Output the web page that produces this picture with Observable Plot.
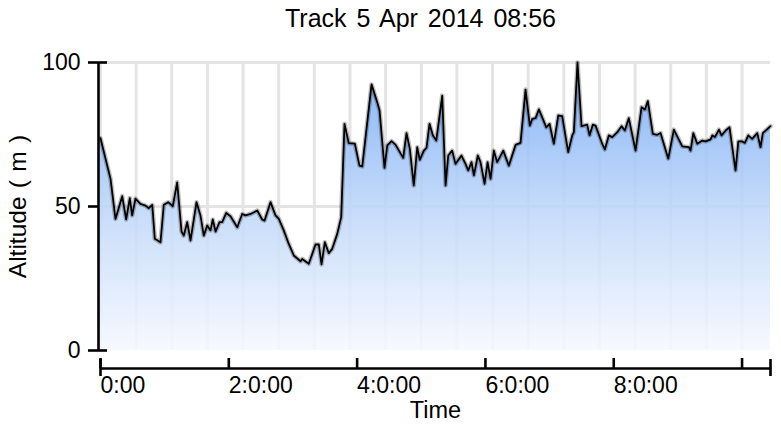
<!DOCTYPE html>
<html>
<head>
<meta charset="utf-8">
<script src="https://cdn.jsdelivr.net/npm/d3@7"></script>
<script src="https://cdn.jsdelivr.net/npm/@observablehq/plot@0.6"></script>
<style>
  html, body { margin: 0; padding: 0; background: #fff; }
</style>
</head>
<body>
<div id="chart"></div>
<script>
const title = "Track 5 Apr 2014 08:56";
const xLabel = "Time";
const yLabel = "Altitude ( m )";

// elapsed time in minutes
const times = [
  0, 9.4, 14.0, 20.3, 24.0, 27.4, 29.6, 32.7, 37.4, 42.1, 45.2, 48.4, 50.8, 56.1, 59.2, 63.3,
  67.6, 71.7, 75.8, 77.9, 81.1, 84.2, 89.8, 93.5, 96.6, 99.8, 102.9, 105.0, 107.6, 111.3, 113.8,
  117.6, 121.6, 127.9, 132.5, 135.6, 140.3, 146.6, 151.2, 153.4, 159.0, 163.7, 166.8, 171.4,
  176.1, 180.8, 187.1, 188.6, 194.8, 201.1, 204.2, 206.7, 209.8, 213.5, 216.7, 221.4, 225.1,
  228.2, 232.2, 237.9, 242.2, 244.8, 253.5, 258.8, 261.0, 265.6, 268.2, 272.2, 275.9, 283.1,
  286.2, 289.3, 293.0, 296.2, 298.6, 302.4, 304.9, 307.7, 310.8, 314.0, 319.6, 322.7, 325.2,
  328.9, 332.0, 337.6, 341.4, 343.9, 347.0, 349.2, 352.9, 355.4, 359.2, 362.0, 364.8, 367.9,
  371.0, 376.7, 381.9, 388.2, 392.8, 397.5, 401.5, 403.8, 406.9, 410.0, 413.7, 416.9, 420.0,
  424.0, 428.1, 431.8, 437.4, 441.2, 442.7, 446.1, 449.9, 455.2, 457.4, 460.4, 463.0, 469.2,
  471.7, 475.4, 478.6, 483.3, 487.3, 490.4, 494.1, 500.4, 506.0, 509.1, 511.9, 516.6, 520.7,
  523.8, 531.0, 536.2, 544.1, 550.3, 551.8, 554.4, 558.1, 562.8, 565.9, 570.6, 572.2, 574.6,
  578.4, 580.8, 584.6, 588.3, 593.9, 596.5, 600.2, 602.6, 605.8, 609.5, 614.2, 617.3, 619.4,
  626.6
];
// altitude in metres
const altitudes = [
  73.7, 59.6, 45.7, 53.6, 45.5, 52.9, 46.9, 52.7, 50.9, 50.3, 49.4, 50.6, 38.8, 37.6, 50.6, 51.5,
  50.1, 58.4, 41.3, 39.9, 44.6, 38.2, 51.5, 46.9, 39.9, 43.4, 41.7, 45.5, 41.3, 44.6, 44.6,
  47.8, 46.6, 42.8, 47.4, 46.9, 47.4, 48.6, 45.5, 45.1, 51.5, 46.9, 45.7, 41.7,
  37.0, 33.0, 31.0, 31.8, 30.1, 36.8, 36.8, 29.9, 37.6, 33.8, 35.3, 40.5, 46.3,
  78.7, 72.0, 71.8, 64.2, 63.9, 92.4, 86.2, 83.3, 63.4, 71.2, 72.7, 71.5, 66.9,
  75.5, 70.0, 57.3, 70.6, 66.2, 69.4, 70.4, 78.7, 74.7, 72.9, 88.5, 57.3, 67.7,
  69.4, 64.8, 67.7, 64.8, 62.5, 65.4, 60.8, 67.7, 65.4, 57.9, 65.4, 59.6, 69.4,
  65.4, 69.4, 64.2, 71.4, 72.1, 90.6, 78.1, 80.4, 80.7, 83.7, 80.4, 77.5, 78.7,
  71.8, 81.6, 81.4, 68.9, 74.7, 75.8, 100.0, 77.9, 78.4, 74.7, 78.4, 78.1, 71.8,
  69.8, 74.7, 74.1, 75.8, 77.9, 76.4, 80.7, 69.4, 84.5, 83.7, 86.6, 75.2, 74.9,
  75.5, 66.6, 76.7, 70.9, 70.6, 69.4, 75.5, 71.8, 72.9, 72.6, 73.3, 74.7, 74.1,
  76.7, 74.7, 76.4, 77.5, 62.5, 72.6, 72.6, 72.1, 74.7, 73.5, 75.5, 70.6, 75.5,
  77.9
];

const yTicks = [0, 50, 100];
const xTicks = [0, 120, 240, 360, 480, 600];           // minutes
const xTickLabels = ["0:00", "2:0:00", "4:0:00", "6:0:00", "8:0:00", ""];
const gridStepMin = 2000 / 60;                          // grid every 2000 s
const gridTimes = d3.range(0, 601, gridStepMin);
const gridAlts = [50, 100];

const data = times.map((t, i) => ({t, alt: altitudes[i]}));
const xEnd = times[times.length - 1];
const labelFor = new Map(xTicks.map((t, i) => [t, xTickLabels[i]]));

const defs = () => {
  const d = d3.create("svg:defs");
  const g = d.append("linearGradient").attr("id", "altFill")
    .attr("x1", 0).attr("y1", 0).attr("x2", 0).attr("y2", 1);
  g.append("stop").attr("offset", "0%").attr("stop-color", "#74a9f6");
  g.append("stop").attr("offset", "55%").attr("stop-color", "#c3daf9");
  g.append("stop").attr("offset", "100%").attr("stop-color", "#f6f8ff");
  return d.node();
};

const font = "Liberation Sans, Arial, Helvetica, sans-serif";

const chart = Plot.plot({
  width: 781,
  height: 427,
  marginLeft: 100,
  marginRight: 11,
  marginTop: 62,
  marginBottom: 77,
  style: {fontFamily: font, fontSize: "23px", background: "#fff", color: "#000"},
  x: {domain: [0, xEnd], axis: null},
  y: {domain: [0, 100], axis: null},
  marks: [
    defs,
    Plot.ruleX(gridTimes, {y1: 0, y2: 100, stroke: "#e4e4e4", strokeWidth: 3}),
    Plot.ruleY(gridAlts, {stroke: "#e4e4e4", strokeWidth: 3}),
    Plot.areaY(data, {x: "t", y: "alt", fill: "url(#altFill)", fillOpacity: 0.88}),
    Plot.lineY(data, {x: "t", y: "alt", stroke: "#222", strokeWidth: 4.5, strokeOpacity: 0.3}),
    Plot.lineY(data, {x: "t", y: "alt", stroke: "#000", strokeWidth: 1.8}),
    // y axis
    Plot.ruleX([0], {y1: 0, y2: 100, dx: -2, stroke: "#000", strokeWidth: 2.6}),
    Plot.axisY({ticks: yTicks, tickSize: 10, dx: -2, tickPadding: 8, strokeWidth: 2.6,
      fontSize: 23, label: null, tickFormat: d => String(d)}),
    Plot.axisY({ticks: [0, 100], tickSize: 9, dx: 7, strokeWidth: 2.6, label: null, tickFormat: () => ""}),
    // x axis
    Plot.ruleY([0], {dy: 18, stroke: "#000", strokeWidth: 2.6}),
    Plot.axisX({ticks: xTicks, tickSize: 10, dy: 8, strokeWidth: 2.6, label: null, tickFormat: () => ""}),
    Plot.axisX({ticks: [0, xEnd], tickSize: 17, dy: 9, strokeWidth: 2.6, label: null, tickFormat: () => ""}),
    Plot.axisX({ticks: xTicks, tickSize: 0, tickPadding: 0, dy: 26, textAnchor: "start",
      fontSize: 23, label: null, tickFormat: d => labelFor.get(d)}),
    // labels
    Plot.text([yLabel], {frameAnchor: "left", rotate: -90, dx: -82, textAnchor: "middle",
      lineAnchor: "middle", fontSize: 24.5, fill: "#000"}),
    Plot.text([xLabel], {frameAnchor: "bottom", dy: 60, textAnchor: "middle", lineAnchor: "middle",
      fontSize: 23.5, fill: "#000"}),
    Plot.text([title], {frameAnchor: "top", dy: -44, dx: -15, textAnchor: "middle", lineAnchor: "middle",
      fontSize: 25, fill: "#000"})
  ]
});

// slightly wider word spacing as in the reference
d3.select(chart).selectAll("text").each(function () {
  const s = this.textContent;
  if (s === title) this.style.wordSpacing = "3px";
  else if (s === yLabel) this.style.wordSpacing = "1.5px";
});

document.getElementById("chart").appendChild(chart);
</script>
</body>
</html>
